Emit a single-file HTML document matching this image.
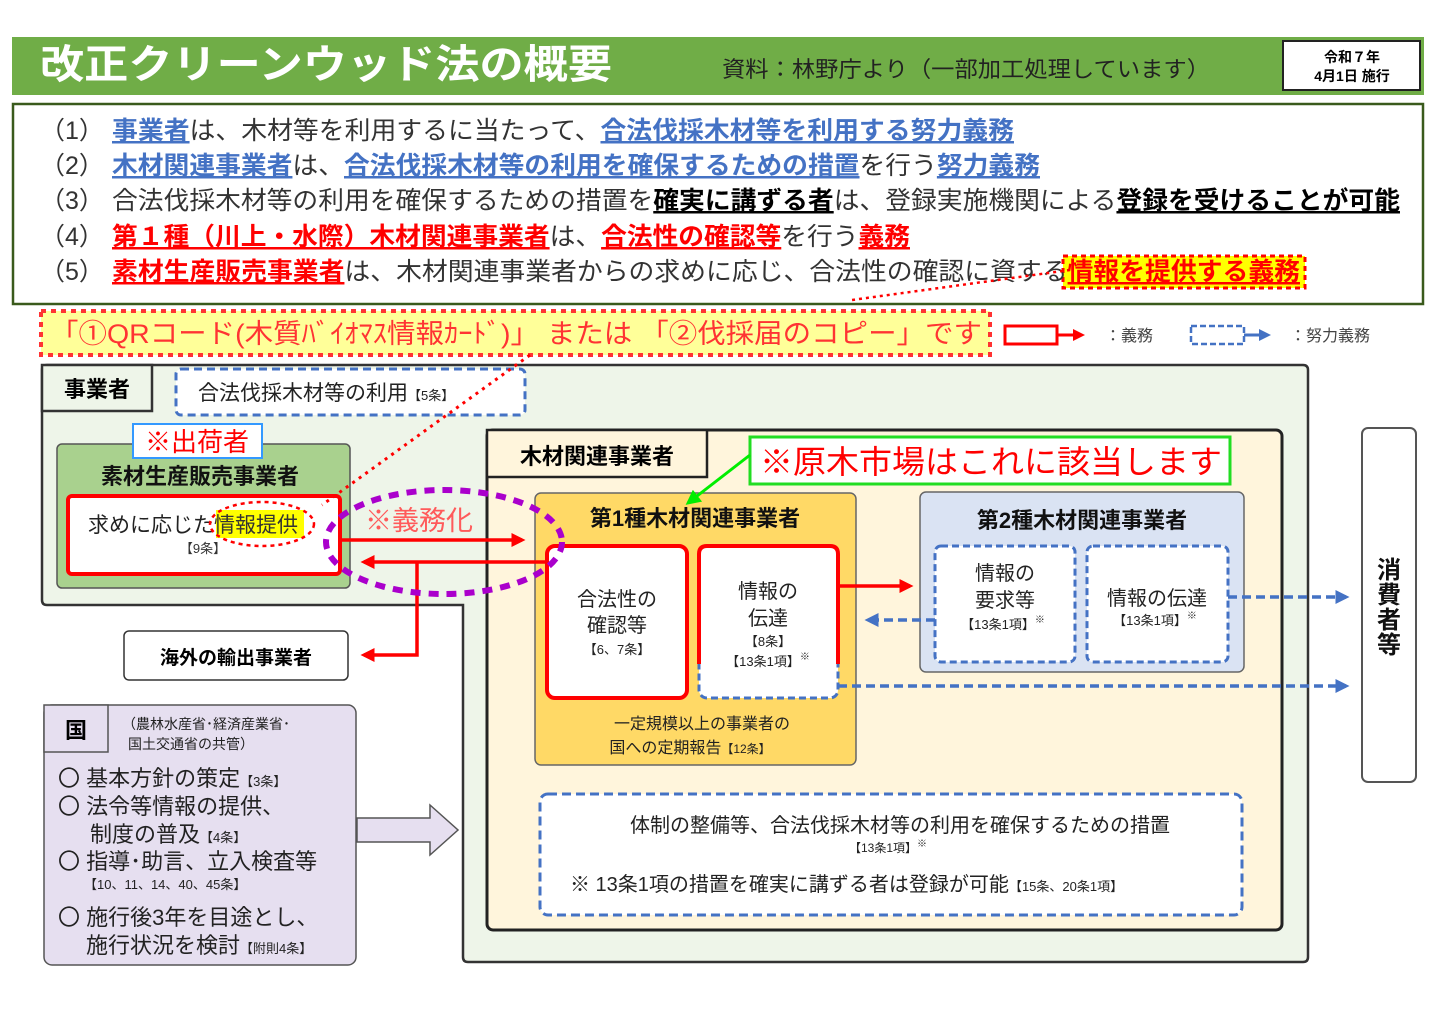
<!DOCTYPE html>
<html><head><meta charset="utf-8">
<style>
html,body{margin:0;padding:0;background:#fff;}
svg{display:block;}
text{font-family:"Liberation Sans","Noto Sans CJK JP",sans-serif;}
.b{font-weight:bold;}
</style></head>
<body>
<svg width="1440" height="1018" viewBox="0 0 1440 1018" xmlns="http://www.w3.org/2000/svg">
<defs>
<marker id="ar" markerWidth="4" markerHeight="4" refX="3" refY="2" orient="auto" markerUnits="strokeWidth"><path d="M0,0 L4,2 L0,4 z" fill="#f00"/></marker>
<marker id="ab" markerWidth="4" markerHeight="4" refX="3" refY="2" orient="auto" markerUnits="strokeWidth"><path d="M0,0 L4,2 L0,4 z" fill="#4472c4"/></marker>
<marker id="ag" markerWidth="5" markerHeight="5" refX="4" refY="2.5" orient="auto" markerUnits="strokeWidth"><path d="M0,0 L5,2.5 L0,5 z" fill="#00ee00"/></marker>
</defs>
<rect width="1440" height="1018" fill="#fff"/>
<!-- header -->
<rect x="12" y="37" width="1412" height="58" fill="#70ad47"/>
<text x="40" y="78" font-size="40" fill="#fff" class="b" textLength="572" lengthAdjust="spacingAndGlyphs">改正クリーンウッド法の概要</text>
<text x="722" y="77" font-size="22" fill="#222" textLength="488" lengthAdjust="spacingAndGlyphs">資料：林野庁より（一部加工処理しています）</text>
<rect x="1283" y="41" width="137" height="49" fill="#fff" stroke="#222" stroke-width="2"/>
<text x="1352" y="62" font-size="14" class="b" text-anchor="middle">令和７年</text>
<text x="1352" y="81" font-size="14" class="b" text-anchor="middle">4月1日 施行</text>
<!-- points box -->
<rect x="13" y="104" width="1410" height="200" fill="#fff" stroke="#3a5a1c" stroke-width="2.5"/>
<g font-size="25">
<text x="40" y="139" fill="#333">（1）</text>
<text x="112" y="139" textLength="902" lengthAdjust="spacingAndGlyphs"><tspan fill="#4472c4" class="b" text-decoration="underline">事業者</tspan><tspan fill="#333">は、木材等を利用するに当たって、</tspan><tspan fill="#4472c4" class="b" text-decoration="underline">合法伐採木材等を利用する努力義務</tspan></text>
<text x="40" y="174" fill="#333">（2）</text>
<text x="112" y="174" textLength="928" lengthAdjust="spacingAndGlyphs"><tspan fill="#4472c4" class="b" text-decoration="underline">木材関連事業者</tspan><tspan fill="#333">は、</tspan><tspan fill="#4472c4" class="b" text-decoration="underline">合法伐採木材等の利用を確保するための措置</tspan><tspan fill="#333">を行う</tspan><tspan fill="#4472c4" class="b" text-decoration="underline">努力義務</tspan></text>
<text x="40" y="209" fill="#333">（3）</text>
<text x="112" y="209" textLength="1288" lengthAdjust="spacingAndGlyphs"><tspan fill="#333">合法伐採木材等の利用を確保するための措置を</tspan><tspan fill="#000" class="b" text-decoration="underline">確実に講ずる者</tspan><tspan fill="#333">は、登録実施機関による</tspan><tspan fill="#000" class="b" text-decoration="underline">登録を受けることが可能</tspan></text>
<text x="40" y="245" fill="#333">（4）</text>
<text x="112" y="245" textLength="798" lengthAdjust="spacingAndGlyphs"><tspan fill="#f00" class="b" text-decoration="underline">第１種（川上・水際）木材関連事業者</tspan><tspan fill="#333">は、</tspan><tspan fill="#f00" class="b" text-decoration="underline">合法性の確認等</tspan><tspan fill="#333">を行う</tspan><tspan fill="#f00" class="b" text-decoration="underline">義務</tspan></text>
<rect x="1063" y="256" width="242" height="32" fill="#ffff00" stroke="#f00" stroke-width="3" stroke-dasharray="5,4"/>
<text x="40" y="280" fill="#333">（5）</text>
<text x="112" y="280" textLength="1188" lengthAdjust="spacingAndGlyphs"><tspan fill="#f00" class="b" text-decoration="underline">素材生産販売事業者</tspan><tspan fill="#333">は、木材関連事業者からの求めに応じ、合法性の確認に資する</tspan><tspan fill="#f00" class="b" text-decoration="underline">情報を提供する義務</tspan></text>
</g>
<line x1="1070" y1="270" x2="852" y2="300" stroke="#f00" stroke-width="2.5" stroke-dasharray="3,4"/>
<!-- QR note -->
<rect x="41" y="311" width="949" height="44" fill="#ffff99" stroke="#f33" stroke-width="4" stroke-dasharray="5,5"/>
<text x="50" y="343" font-size="27" fill="#f33" textLength="932" lengthAdjust="spacingAndGlyphs">「①QRコード(木質ﾊﾞｲｵﾏｽ情報ｶｰﾄﾞ)」 または 「②伐採届のコピー」です</text>
<!-- legend -->
<rect x="1005" y="326" width="52" height="18" fill="#fff" stroke="#f00" stroke-width="3"/>
<line x1="1057" y1="335" x2="1082" y2="335" stroke="#f00" stroke-width="3" marker-end="url(#ar)"/>
<text x="1105" y="341" font-size="16" fill="#444">：義務</text>
<rect x="1191" y="326" width="53" height="18" fill="#fff" stroke="#4472c4" stroke-width="2.5" stroke-dasharray="6,3"/>
<line x1="1244" y1="335" x2="1268" y2="335" stroke="#4472c4" stroke-width="3" marker-end="url(#ab)"/>
<text x="1290" y="341" font-size="16" fill="#444">：努力義務</text>
<!-- outer 事業者 container -->
<path d="M47,365 H1303 Q1308,365 1308,370 V957 Q1308,962 1303,962 H468 Q463,962 463,957 V605 H47 Q42,605 42,600 V370 Q42,365 47,365 Z" fill="#eef5e9" stroke="#333" stroke-width="2.5"/>
<rect x="42" y="365" width="110" height="46" fill="#eef5e9" stroke="#333" stroke-width="2.5"/>
<text x="97" y="397" font-size="22" class="b" text-anchor="middle">事業者</text>
<rect x="176" y="369" width="349" height="46" rx="5" fill="#fff" stroke="#4472c4" stroke-width="3" stroke-dasharray="8,5"/>
<text x="198" y="400" font-size="21" fill="#222">合法伐採木材等の利用<tspan font-size="13">【5条】</tspan></text>
<!-- 素材生産販売事業者 -->
<rect x="57" y="444" width="293" height="144" rx="5" fill="#a9d18e" stroke="#555" stroke-width="1.5"/>
<rect x="133" y="424" width="129" height="34" fill="#fff" stroke="#3399ff" stroke-width="2"/>
<text x="197" y="451" font-size="26" fill="#f00" text-anchor="middle">※出荷者</text>
<text x="200" y="484" font-size="22" class="b" text-anchor="middle" fill="#111">素材生産販売事業者</text>
<rect x="68" y="496" width="272" height="78" rx="4" fill="#fff" stroke="#f00" stroke-width="4"/>
<rect x="216" y="510" width="88" height="28" fill="#ffff00"/>
<text x="88" y="532" font-size="21" fill="#222">求めに応じた<tspan fill="#333">情報提供</tspan></text>
<ellipse cx="262" cy="524" rx="52" ry="22" fill="none" stroke="#f00" stroke-width="2.5" stroke-dasharray="4,4"/>
<text x="203" y="553" font-size="13" fill="#333" text-anchor="middle">【9条】</text>
<line x1="530" y1="355" x2="322" y2="505" stroke="#f00" stroke-width="3" stroke-dasharray="3,5"/>
<!-- 海外 -->
<rect x="124" y="631" width="224" height="49" rx="5" fill="#fff" stroke="#333" stroke-width="1.5"/>
<text x="236" y="664" font-size="19" class="b" text-anchor="middle">海外の輸出事業者</text>
<!-- 木材関連事業者 container -->
<rect x="487" y="430" width="795" height="500" rx="6" fill="#fff5dc" stroke="#222" stroke-width="3"/>
<rect x="487" y="430" width="220" height="47" fill="#fff5dc" stroke="#222" stroke-width="2.5"/>
<text x="597" y="464" font-size="22" class="b" text-anchor="middle">木材関連事業者</text>
<rect x="750" y="437" width="480" height="47" fill="#fff" stroke="#22dd22" stroke-width="3"/>
<text x="760" y="473" font-size="32" fill="#f00" textLength="462" lengthAdjust="spacingAndGlyphs">※原木市場はこれに該当します</text>
<!-- 第1種 -->
<rect x="535" y="493" width="321" height="272" rx="6" fill="#ffd966" stroke="#666" stroke-width="1.5"/>
<text x="695" y="526" font-size="22" class="b" text-anchor="middle" fill="#111">第1種木材関連事業者</text>
<line x1="750" y1="455" x2="688" y2="503" stroke="#00ee00" stroke-width="3" marker-end="url(#ag)"/>
<rect x="547" y="546" width="140" height="152" rx="8" fill="#fff" stroke="#f00" stroke-width="4"/>
<text x="617" y="606" font-size="20" text-anchor="middle" fill="#222">合法性の</text>
<text x="617" y="632" font-size="20" text-anchor="middle" fill="#222">確認等</text>
<text x="617" y="654" font-size="13" text-anchor="middle" fill="#222">【6、7条】</text>
<rect x="699" y="546" width="139" height="152" rx="8" fill="#fff" stroke="#4472c4" stroke-width="3" stroke-dasharray="7,4"/>
<path d="M699,664 V554 Q699,546 707,546 H830 Q838,546 838,554 V664" fill="none" stroke="#f00" stroke-width="4"/>
<text x="768" y="598" font-size="20" text-anchor="middle" fill="#222">情報の</text>
<text x="768" y="625" font-size="20" text-anchor="middle" fill="#222">伝達</text>
<text x="768" y="646" font-size="13" text-anchor="middle" fill="#222">【8条】</text>
<text x="768" y="666" font-size="13" text-anchor="middle" fill="#222">【13条1項】<tspan font-size="10" dy="-6">※</tspan></text>
<text x="702" y="729" font-size="16" text-anchor="middle" fill="#222">一定規模以上の事業者の</text>
<text x="690" y="753" font-size="16" text-anchor="middle" fill="#222">国への定期報告<tspan font-size="12">【12条】</tspan></text>
<!-- 第2種 -->
<rect x="920" y="492" width="324" height="180" rx="6" fill="#dae3f3" stroke="#666" stroke-width="1.5"/>
<text x="1082" y="528" font-size="22" class="b" text-anchor="middle" fill="#111">第2種木材関連事業者</text>
<rect x="935" y="546" width="140" height="116" rx="6" fill="#fff" stroke="#4472c4" stroke-width="3" stroke-dasharray="7,4"/>
<text x="1005" y="580" font-size="20" text-anchor="middle" fill="#222">情報の</text>
<text x="1005" y="607" font-size="20" text-anchor="middle" fill="#222">要求等</text>
<text x="1003" y="629" font-size="13" text-anchor="middle" fill="#222">【13条1項】<tspan font-size="10" dy="-6">※</tspan></text>
<rect x="1087" y="546" width="141" height="116" rx="6" fill="#fff" stroke="#4472c4" stroke-width="3" stroke-dasharray="7,4"/>
<text x="1157" y="605" font-size="20" text-anchor="middle" fill="#222">情報の伝達</text>
<text x="1155" y="625" font-size="13" text-anchor="middle" fill="#222">【13条1項】<tspan font-size="10" dy="-6">※</tspan></text>
<!-- arrows 1-2 -->
<line x1="840" y1="586" x2="910" y2="586" stroke="#f00" stroke-width="3.5" marker-end="url(#ar)"/>
<line x1="935" y1="620" x2="868" y2="620" stroke="#4472c4" stroke-width="3.5" stroke-dasharray="9,5" marker-end="url(#ab)"/>
<line x1="1228" y1="597" x2="1346" y2="597" stroke="#4472c4" stroke-width="3.5" stroke-dasharray="9,5" marker-end="url(#ab)"/>
<line x1="838" y1="686" x2="1346" y2="686" stroke="#4472c4" stroke-width="3.5" stroke-dasharray="9,5" marker-end="url(#ab)"/>
<!-- bottom dashed box -->
<rect x="540" y="794" width="702" height="121" rx="8" fill="#fff" stroke="#4472c4" stroke-width="3" stroke-dasharray="9,5"/>
<text x="900" y="832" font-size="20" text-anchor="middle" fill="#222">体制の整備等、合法伐採木材等の利用を確保するための措置</text>
<text x="888" y="852" font-size="12" text-anchor="middle" fill="#222">【13条1項】<tspan font-size="10" dy="-5">※</tspan></text>
<text x="570" y="891" font-size="20" fill="#222">※ 13条1項の措置を確実に講ずる者は登録が可能<tspan font-size="13">【15条、20条1項】</tspan></text>
<!-- consumers -->
<rect x="1362" y="428" width="54" height="354" rx="6" fill="#fff" stroke="#555" stroke-width="2"/>
<g font-size="24" class="b" text-anchor="middle" fill="#111">
<text x="1389" y="578">消</text><text x="1389" y="603">費</text><text x="1389" y="628">者</text><text x="1389" y="653">等</text>
</g>
<!-- red arrows left -->
<line x1="340" y1="540" x2="522" y2="540" stroke="#f00" stroke-width="3.5" marker-end="url(#ar)"/>
<line x1="546" y1="562" x2="364" y2="562" stroke="#f00" stroke-width="3.5" marker-end="url(#ar)"/>
<polyline points="417,562 417,655 364,655" fill="none" stroke="#f00" stroke-width="3.5" marker-end="url(#ar)"/>
<text x="365" y="530" font-size="27" fill="#ff5a5a">※義務化</text>
<ellipse cx="444" cy="542" rx="118" ry="52" fill="none" stroke="#aa00cc" stroke-width="6" stroke-dasharray="10,8"/>
<!-- 国 -->
<rect x="44" y="705" width="312" height="260" rx="8" fill="#e6dff0" stroke="#555" stroke-width="1.5"/>
<rect x="44" y="705" width="64" height="47" fill="#e6dff0" stroke="#555" stroke-width="1.5"/>
<text x="76" y="738" font-size="22" class="b" text-anchor="middle">国</text>
<text x="122" y="729" font-size="14" fill="#222">（農林水産省･経済産業省･</text>
<text x="128" y="749" font-size="14" fill="#222">国土交通省の共管）</text>
<g font-size="22" fill="#222">
<text x="58" y="786">〇 基本方針の策定<tspan font-size="13">【3条】</tspan></text>
<text x="58" y="814">〇 法令等情報の提供、</text>
<text x="90" y="842">制度の普及<tspan font-size="13">【4条】</tspan></text>
<text x="58" y="869">〇 指導･助言、立入検査等</text>
<text x="84" y="889" font-size="13">【10、11、14、40、45条】</text>
<text x="58" y="925">〇  施行後3年を目途とし、</text>
<text x="86" y="953">施行状況を検討<tspan font-size="13">【附則4条】</tspan></text>
</g>
<path d="M357,818 H430 V805 L458,830 L430,855 V842 H357 Z" fill="#e6dff0" stroke="#555" stroke-width="1.5"/>
</svg>
</body></html>
